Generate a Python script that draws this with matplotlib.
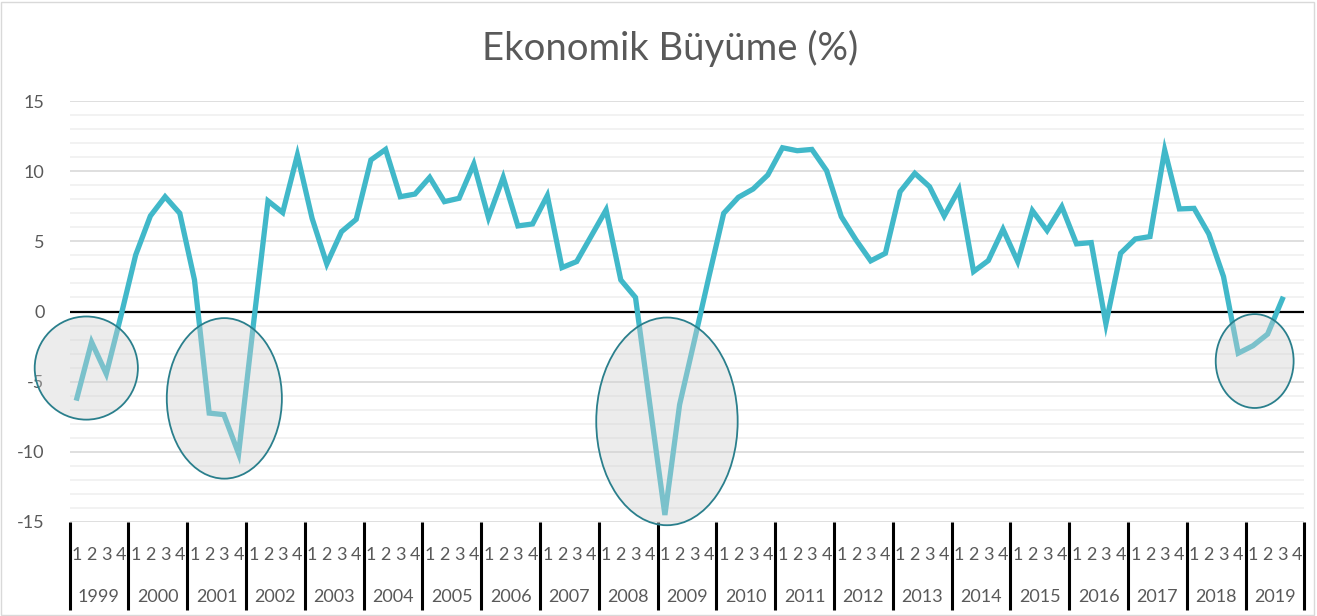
import matplotlib
matplotlib.use("Agg")
import matplotlib.pyplot as plt
from matplotlib.patches import Ellipse, Rectangle
import matplotlib.transforms as mtransforms

plt.rcParams["font.family"] = ["Lato", "DejaVu Sans"]

# quarterly growth, 1999Q1 .. 2019Q3
years = [str(y) for y in range(1999, 2020)]
quarters = ["1", "2", "3", "4"]
growth = [
    -6.17, -2.18, -4.44, -0.3,
    4.03, 6.81, 8.18, 7.0,
    2.25, -7.24, -7.35, -10.13,
    -1.0, 7.88, 7.05, 11.15,
    6.64, 3.39, 5.69, 6.57,
    10.8, 11.55, 8.18, 8.37,
    9.56, 7.83, 8.07, 10.51,
    6.69, 9.56, 6.10, 6.24,
    8.26, 3.13, 3.56, 5.4,
    7.24, 2.25, 1.0, -6.8,
    -14.5, -6.64, -2.1, 2.5,
    7.0, 8.14, 8.73, 9.73,
    11.67, 11.46, 11.55, 10.04,
    6.76, 5.1, 3.61, 4.15,
    8.54, 9.85, 8.9, 6.81,
    8.7, 2.85, 3.63, 5.86,
    3.56, 7.19, 5.77, 7.47,
    4.82, 4.91, -0.88, 4.15,
    5.17, 5.34, 11.5, 7.31,
    7.35, 5.53, 2.49, -2.97,
    -2.44, -1.61, 0.88,
]
yticks = [-15, -10, -5, 0, 5, 10, 15]

# recession highlights: (center index, center value, width, height)
circles = [
    (0.64, -4.03, 7.02, 7.35),
    (10.03, -6.19, 7.83, 11.44),
    (40.14, -7.83, 9.62, 14.8),
    (80.12, -3.53, 5.30, 6.69),
]

TEXT = "#595959"
LINE = "#41b8c9"

fig = plt.figure(figsize=(13.17, 6.16), dpi=100)
ax = fig.add_axes([0.0528, 0.1526, 0.9376, 0.6834])

n_slots = len(years) * 4
ax.set_xlim(-0.5, n_slots - 0.5)
ax.set_ylim(-15, 15)

# gridlines
for v in range(-15, 16):
    if v == 0:
        continue
    major = v % 5 == 0
    ax.axhline(v, color="#d9d9d9" if major else "#f0f0f0", lw=1.2, zorder=0)
ax.axhline(0, color="black", lw=1.6, zorder=1)

ax.plot(range(len(growth)), growth, color=LINE, lw=3.8, solid_joinstyle="miter", zorder=2)

for cx, cy, w, h in circles:
    ax.add_patch(Ellipse((cx, cy), w, h, facecolor="#d0d0d0", alpha=0.4,
                         edgecolor="none", zorder=3, clip_on=False))
    ax.add_patch(Ellipse((cx, cy), w, h, facecolor="none", edgecolor="#2a7f8c",
                         lw=1.3, zorder=4, clip_on=False))

for s in ax.spines.values():
    s.set_visible(False)

ax.set_yticks(yticks)
ax.set_yticklabels([str(t) for t in yticks], color=TEXT, fontsize=13)
ax.tick_params(axis="y", length=0, pad=18)

ax.set_xticks(range(n_slots))
ax.set_xticklabels(quarters * len(years), color=TEXT, fontsize=13)
ax.tick_params(axis="x", length=0, pad=18)

trans = mtransforms.blended_transform_factory(ax.transData, ax.transAxes)
for k, yr in enumerate(years):
    ax.text(4 * k + 1.5, -0.178, yr, transform=trans, ha="center", va="center",
            color=TEXT, fontsize=13)
for k in range(len(years) + 1):
    ax.plot([4 * k - 0.5, 4 * k - 0.5], [0, -0.21], transform=trans, color="black",
            lw=2.2, clip_on=False, solid_capstyle="butt")

fig.text(0.509, 0.922, "Ekonomik Büyüme (%)", ha="center", va="center",
         color=TEXT, fontsize=27.5)

fig.patches.append(Rectangle((0.001, 0.002), 0.997, 0.995, transform=fig.transFigure,
                             fill=False, edgecolor="#d9d9d9", lw=1))

fig.savefig("out.png", dpi=100)
